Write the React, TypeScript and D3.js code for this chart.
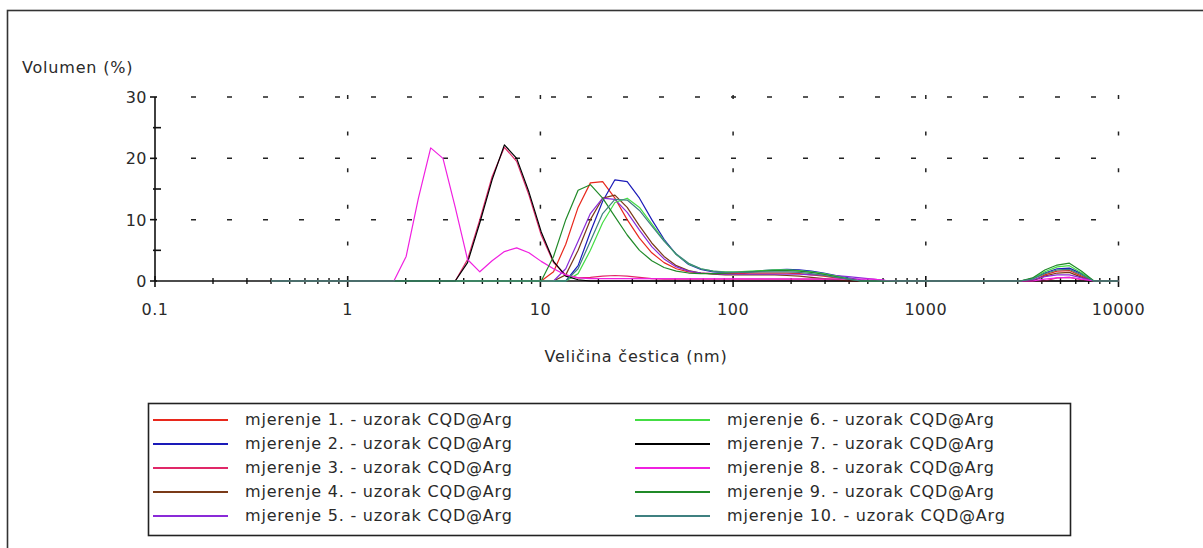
import React from 'react';
import * as d3 from 'd3';

const W = 1203;
const H = 548;

// particle size (nm) vs volume (%) – pairs at the instrument's size classes
const s1: [number, number][] = [[0.4, 0], [10.1, 0], [11.7, 1.5], [13.54, 6], [15.69, 12], [18.17, 16], [21.04, 16.2], [24.36, 13.5], [28.21, 10], [32.67, 7], [37.84, 4.6], [43.82, 3], [50.75, 2], [58.77, 1.5], [68.06, 1.3], [78.82, 1.2], [91.28, 1.2], [105.7, 1.2], [122.4, 1.3], [141.8, 1.3], [164.2, 1.3], [190.1, 1.3], [220.2, 1.2], [255, 1], [295.3, 0.8], [342, 0.5], [396.1, 0.2], [458.7, 0], [3580, 0], [4145, 1], [4801, 1.6], [5560, 1.7], [6439, 0.8], [7456, 0], [10000, 0]];
const s2: [number, number][] = [[0.4, 0], [13.54, 0], [15.69, 2.5], [18.17, 8], [21.04, 13], [24.36, 16.5], [28.21, 16.2], [32.67, 13.5], [37.84, 10], [43.82, 6.8], [50.75, 4.3], [58.77, 2.7], [68.06, 1.9], [78.82, 1.5], [91.28, 1.4], [105.7, 1.4], [122.4, 1.5], [141.8, 1.7], [164.2, 1.8], [190.1, 1.9], [220.2, 1.8], [255, 1.6], [295.3, 1.3], [342, 0.9], [396.1, 0.5], [458.7, 0.2], [531.2, 0], [3091, 0], [3580, 0.4], [4145, 1.3], [4801, 2], [5560, 2.1], [6439, 1.2], [7456, 0], [10000, 0]];
const s3: [number, number][] = [[0.4, 0], [3.615, 0], [4.187, 3.5], [4.849, 10], [5.615, 17], [6.503, 21.8], [7.531, 19.5], [8.721, 14], [10.1, 7.5], [11.7, 3], [13.54, 1], [15.69, 0.5], [18.17, 0.6], [21.04, 0.8], [24.36, 0.9], [28.21, 0.8], [32.67, 0.6], [37.84, 0.4], [43.82, 0.3], [342, 0.3], [396.1, 0], [4145, 0], [4801, 0.5], [5560, 0.6], [6439, 0.2], [7456, 0], [10000, 0]];
const s4: [number, number][] = [[0.4, 0], [11.7, 0], [13.54, 1], [15.69, 5], [18.17, 10], [21.04, 13.5], [24.36, 14], [28.21, 12], [32.67, 9], [37.84, 6.2], [43.82, 4], [50.75, 2.5], [58.77, 1.7], [68.06, 1.3], [78.82, 1.1], [91.28, 1], [105.7, 1], [122.4, 1], [141.8, 1], [164.2, 1], [190.1, 0.9], [220.2, 0.8], [255, 0.6], [295.3, 0.4], [342, 0.2], [396.1, 0], [3580, 0], [4145, 0.8], [4801, 1.3], [5560, 1.4], [6439, 0.6], [7456, 0], [10000, 0]];
const s5: [number, number][] = [[0.4, 0], [11.7, 0], [13.54, 2], [15.69, 6.5], [18.17, 11], [21.04, 13.5], [24.36, 13.3], [28.21, 11.2], [32.67, 8.3], [37.84, 5.6], [43.82, 3.6], [50.75, 2.3], [58.77, 1.6], [68.06, 1.3], [78.82, 1.2], [91.28, 1.1], [105.7, 1.1], [190.1, 1.1], [220.2, 1.1], [255, 1], [295.3, 1], [342, 0.9], [396.1, 0.7], [458.7, 0.5], [531.2, 0.3], [615.1, 0.1], [712.4, 0], [3091, 0], [3580, 0.2], [4145, 0.7], [4801, 1], [5560, 1], [6439, 0.5], [7456, 0], [10000, 0]];
const s6: [number, number][] = [[0.4, 0], [13.54, 0], [15.69, 1.2], [18.17, 5], [21.04, 9.5], [24.36, 12.8], [28.21, 13.5], [32.67, 12], [37.84, 9.3], [43.82, 6.6], [50.75, 4.3], [58.77, 2.8], [68.06, 2], [78.82, 1.6], [91.28, 1.5], [105.7, 1.5], [122.4, 1.6], [141.8, 1.7], [164.2, 1.8], [190.1, 1.8], [220.2, 1.7], [255, 1.5], [295.3, 1.2], [342, 0.8], [396.1, 0.4], [458.7, 0], [3091, 0], [3580, 0.4], [4145, 1.5], [4801, 2.3], [5560, 2.5], [6439, 1.3], [7456, 0], [10000, 0]];
const s7: [number, number][] = [[0.4, 0], [3.615, 0], [4.187, 3], [4.849, 9.5], [5.615, 16.5], [6.503, 22.2], [7.531, 20], [8.721, 14.5], [10.1, 8], [11.7, 3.2], [13.54, 0.8], [15.69, 0.2], [18.17, 0], [10000, 0]];
const s8: [number, number][] = [[0.4, 0], [1.736, 0], [2.01, 4], [2.328, 13.5], [2.696, 21.7], [3.122, 20], [3.615, 12], [4.187, 3.5], [4.849, 1.5], [5.615, 3.3], [6.503, 4.8], [7.531, 5.4], [8.721, 4.6], [10.1, 3.2], [11.7, 2], [13.54, 1], [15.69, 0.5], [18.17, 0.4], [21.04, 0.4], [531.2, 0.3], [615.1, 0.1], [712.4, 0], [3580, 0], [4145, 0.3], [4801, 0.5], [5560, 0.6], [6439, 0.3], [7456, 0], [10000, 0]];
const s9: [number, number][] = [[0.4, 0], [10.1, 0], [11.7, 4], [13.54, 10], [15.69, 14.8], [18.17, 15.7], [21.04, 13.5], [24.36, 10.5], [28.21, 7.5], [32.67, 5], [37.84, 3.3], [43.82, 2.2], [50.75, 1.6], [58.77, 1.3], [68.06, 1.2], [78.82, 1.2], [91.28, 1.3], [105.7, 1.4], [122.4, 1.5], [141.8, 1.6], [164.2, 1.7], [190.1, 1.7], [220.2, 1.6], [255, 1.4], [295.3, 1.1], [342, 0.7], [396.1, 0.3], [458.7, 0], [3091, 0], [3580, 0.5], [4145, 1.8], [4801, 2.6], [5560, 2.9], [6439, 1.6], [7456, 0], [10000, 0]];
const s10: [number, number][] = [[0.4, 0], [13.54, 0], [15.69, 2], [18.17, 6.5], [21.04, 11], [24.36, 13.3], [28.21, 13.2], [32.67, 11.5], [37.84, 9], [43.82, 6.5], [50.75, 4.4], [58.77, 2.9], [68.06, 2], [78.82, 1.6], [91.28, 1.4], [105.7, 1.4], [141.8, 1.5], [164.2, 1.5], [190.1, 1.5], [220.2, 1.4], [255, 1.2], [295.3, 0.9], [342, 0.6], [396.1, 0.3], [458.7, 0], [3091, 0], [3580, 0.3], [4145, 1.2], [4801, 1.8], [5560, 1.9], [6439, 1], [7456, 0], [10000, 0]];

const series = [s1, s2, s3, s4, s5, s6, s7, s8, s9, s10];
const seriesNames = [
  'mjerenje 1. - uzorak CQD@Arg',
  'mjerenje 2. - uzorak CQD@Arg',
  'mjerenje 3. - uzorak CQD@Arg',
  'mjerenje 4. - uzorak CQD@Arg',
  'mjerenje 5. - uzorak CQD@Arg',
  'mjerenje 6. - uzorak CQD@Arg',
  'mjerenje 7. - uzorak CQD@Arg',
  'mjerenje 8. - uzorak CQD@Arg',
  'mjerenje 9. - uzorak CQD@Arg',
  'mjerenje 10. - uzorak CQD@Arg',
];
const seriesColors = ['#e8281c', '#1a1ab8', '#e02868', '#7a3a18', '#8a2ad8', '#44dd44', '#000000', '#f020e0', '#208a28', '#3f8080'];

const yMajor = [0, 10, 20, 30];
const yMinor = [5, 15, 25];
const xDecades = [0.1, 1, 10, 100, 1000, 10000];
const xTickLabels = ['0.1', '1', '10', '100', '1000', '10000'];
const gridY = [10, 20, 30];

const FONT = '"DejaVu Sans", Verdana, sans-serif';
const TXT = '#2a2a2a';

export default function App() {
  const x = d3.scaleLog().domain([0.1, 10000]).range([155, 1118.5]);
  const y = d3.scaleLinear().domain([0, 30]).range([281, 97]);
  const line = d3.line<[number, number]>().x(d => x(d[0])).y(d => y(d[1]));
  const minorX = x.ticks().filter(t => !xDecades.some(dd => Math.abs(dd - t) / dd < 1e-6));

  const legTop = 403;
  const rowH = 24;

  return (
    <svg width={W} height={H} style={{ position: 'absolute', left: 0, top: 0, background: '#fff' }}
      fontFamily={FONT}>
      <rect x={7.5} y={10.5} width={1300} height={700} fill="#fff" stroke="#333" strokeWidth={1.6} />

      {/* grid */}
      {gridY.map(v => (
        <line key={'gy' + v} x1={191} x2={x(10000)} y1={y(v)} y2={y(v)} stroke="#222" strokeWidth={1.5}
          strokeDasharray="5 31" />
      ))}
      {xDecades.slice(1).map(v => (
        <line key={'gx' + v} x1={x(v)} x2={x(v)} y1={95} y2={y(2)} stroke="#222" strokeWidth={1.5}
          strokeDasharray="4 32.6" />
      ))}

      {/* axes */}
      <line x1={x(0.1)} x2={x(10000)} y1={y(0)} y2={y(0)} stroke="#111" strokeWidth={1.6} />
      <line x1={x(0.1)} x2={x(0.1)} y1={y(30)} y2={y(0)} stroke="#111" strokeWidth={1.6} />
      {yMajor.map(v => (
        <line key={'ym' + v} x1={150} x2={157} y1={y(v)} y2={y(v)} stroke="#111" strokeWidth={1.6} />
      ))}
      {yMinor.map(v => (
        <line key={'yn' + v} x1={153} x2={161} y1={y(v)} y2={y(v)} stroke="#111" strokeWidth={1.6} />
      ))}
      {xDecades.map(v => (
        <line key={'xm' + v} x1={x(v)} x2={x(v)} y1={276} y2={287} stroke="#111" strokeWidth={1.6} />
      ))}
      {minorX.map(v => (
        <line key={'xn' + v} x1={x(v)} x2={x(v)} y1={278} y2={284} stroke="#111" strokeWidth={1.4} />
      ))}

      {/* series */}
      {series.map((s, i) => (
        <path key={'s' + i} d={line(s) || ''} fill="none" stroke={seriesColors[i]} strokeWidth={1.2}
          strokeLinejoin="round" />
      ))}

      {/* labels */}
      <text x={22} y={73} fontSize={16} fill={TXT} letterSpacing={0.8}>Volumen (%)</text>
      {yMajor.map(v => (
        <text key={'yl' + v} x={147} y={y(v) + 6} fontSize={16} fill={TXT} textAnchor="end" letterSpacing={0.5}>{v}</text>
      ))}
      {xDecades.map((v, i) => (
        <text key={'xl' + v} x={x(v)} y={315} fontSize={16} fill={TXT} textAnchor="middle" letterSpacing={0.5}>{xTickLabels[i]}</text>
      ))}
      <text x={636} y={362} fontSize={16} fill={TXT} textAnchor="middle" letterSpacing={0.8}>Veličina čestica (nm)</text>

      {/* legend */}
      <rect x={148.5} y={legTop + 0.5} width={922} height={132} fill="#fff" stroke="#222" strokeWidth={1.6} />
      {seriesNames.map((name, i) => {
        const col = Math.floor(i / 5);
        const row = i % 5;
        const cy = legTop + 16 + row * rowH;
        const lx = col === 0 ? 153 : 635;
        return (
          <g key={'lg' + i}>
            <line x1={lx} x2={lx + 75} y1={cy + 1} y2={cy + 1} stroke={seriesColors[i]} strokeWidth={2} />
            <text x={lx + 92} y={cy + 6} fontSize={16} fill={TXT} letterSpacing={0.8}>{name}</text>
          </g>
        );
      })}
    </svg>
  );
}
